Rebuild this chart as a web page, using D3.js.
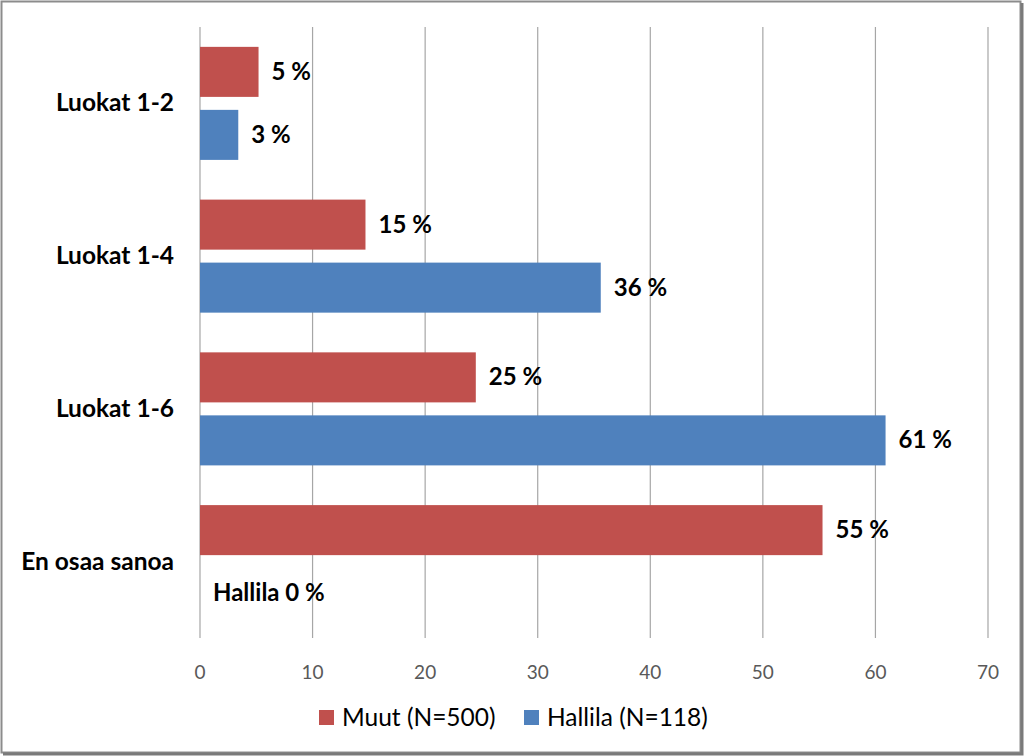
<!DOCTYPE html>
<html>
<head>
  <meta charset="UTF-8">
  <script src="https://d3js.org/d3.v7.js"></script>
  <style>
    body { margin: 0; background: #fff; }
    text { font-family: Lato, "Open Sans", sans-serif; }
  </style>
</head>
<body>
  <div id="chart"></div>
  <script>
    // data

    const categories = ["Luokat 1-2", "Luokat 1-4", "Luokat 1-6", "En osaa sanoa"];
    const series = ["Muut (N=500)", "Hallila (N=118)"];
    const shortNames = ["Muut", "Hallila"];
    const muut = [5.2, 14.7, 24.5, 55.3];
    const hallila = [3.4, 35.6, 60.9, 0];
    const ticks = [0, 10, 20, 30, 40, 50, 60, 70];
    const colors = ["#C0504D", "#4F81BD"];

    const values = [muut, hallila];
    const rows = [];
    categories.forEach((c, i) => {
      series.forEach((s, j) => rows.push({ cat: c, key: s, idx: j, value: values[j][i] }));
    });

    // set up

    const W = 1024, H = 756;
    const svg = d3.select('#chart').append('svg')
      .attr('width', W)
      .attr('height', H);

    // frame
    svg.append('rect')
      .attr('x', 1.5).attr('y', 1.5)
      .attr('width', W - 5).attr('height', H - 5)
      .attr('fill', '#fff')
      .attr('stroke', '#8c8c8c')
      .attr('stroke-width', 2);
    svg.append('path')
      .attr('d', `M${W - 2},3V${H - 2}H3`)
      .attr('fill', 'none')
      .attr('stroke', '#7a7a7a')
      .attr('stroke-width', 3);

    // scales

    const x = d3.scaleLinear().domain([0, 70]).range([200, 988]);

    const y = d3.scaleBand()
      .domain(categories)
      .range([27, 638])
      .paddingInner(0.26)
      .paddingOuter(0.13);

    const ySub = d3.scaleBand()
      .domain(series)
      .range([0, y.bandwidth()])
      .paddingInner(0.206)
      .paddingOuter(0);

    const color = d3.scaleOrdinal().domain(series).range(colors);

    // grid + tick labels

    svg.append('g')
      .selectAll('line')
      .data(ticks)
      .join('line')
        .attr('x1', d => x(d)).attr('x2', d => x(d))
        .attr('y1', 27).attr('y2', 638)
        .attr('stroke', '#a6a6a6')
        .attr('stroke-width', 1.2);

    svg.append('g')
      .selectAll('text')
      .data(ticks)
      .join('text')
        .attr('x', d => x(d))
        .attr('y', 679)
        .attr('text-anchor', 'middle')
        .attr('font-size', 19)
        .attr('fill', '#595959')
        .text(d => d);

    // category labels

    svg.append('g')
      .selectAll('text')
      .data(categories)
      .join('text')
        .attr('x', 174)
        .attr('y', d => y(d) + y.bandwidth() / 2 + 8)
        .attr('text-anchor', 'end')
        .attr('font-size', 24.5)
        .attr('font-weight', 'bold')
        .attr('fill', '#000')
        .text(d => d);

    // bars

    svg.append('g')
      .selectAll('rect')
      .data(rows)
      .join('rect')
        .attr('x', x(0))
        .attr('y', d => y(d.cat) + ySub(d.key))
        .attr('width', d => x(d.value) - x(0))
        .attr('height', ySub.bandwidth())
        .attr('fill', d => color(d.key));

    // value labels

    svg.append('g')
      .selectAll('text')
      .data(rows)
      .join('text')
        .attr('x', d => x(d.value) + 13)
        .attr('y', d => y(d.cat) + ySub(d.key) + ySub.bandwidth() / 2 + 8)
        .attr('font-size', 24)
        .attr('font-weight', 'bold')
        .attr('fill', '#000')
        .text(d => d.value === 0 ? `${shortNames[d.idx]} 0 %` : `${Math.round(d.value)} %`);

    // legend

    const legendX = [319, 524];
    const legend = svg.append('g')
      .selectAll('g')
      .data(series)
      .join('g')
        .attr('transform', (d, i) => `translate(${legendX[i]},710)`);

    legend.append('rect')
      .attr('width', 15).attr('height', 15)
      .attr('fill', d => color(d));

    legend.append('text')
      .attr('x', 23)
      .attr('y', 16)
      .attr('font-size', 24.5)
      .attr('fill', '#000')
      .text(d => d);
  </script>
</body>
</html>
